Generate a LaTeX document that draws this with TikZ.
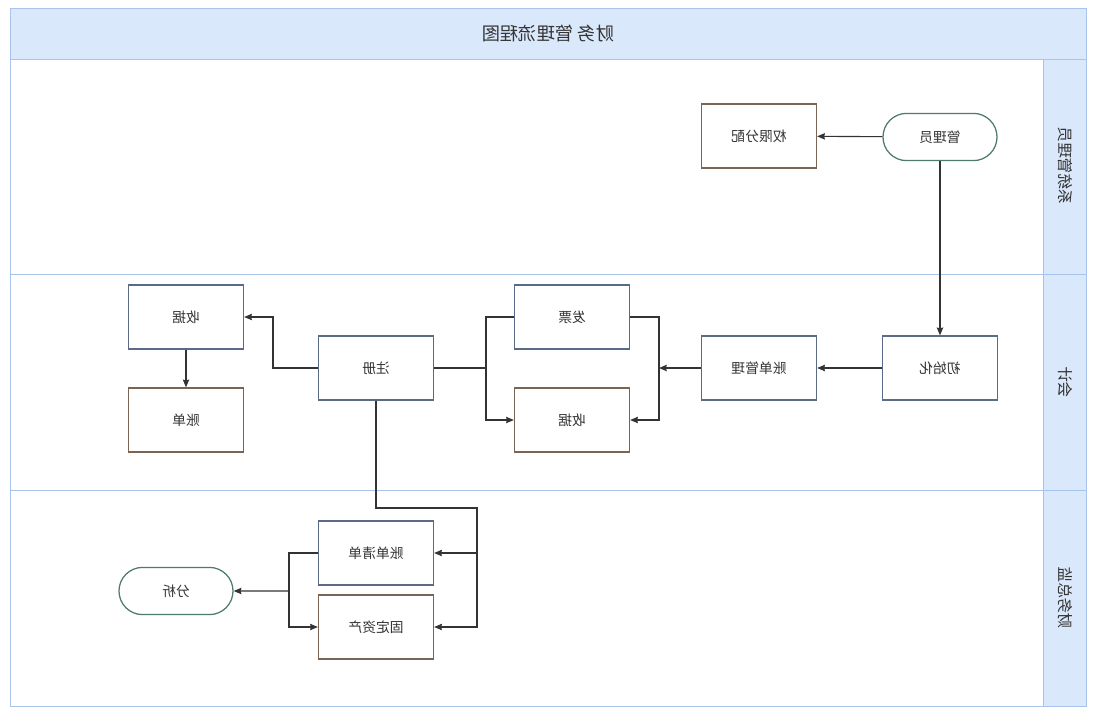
\documentclass[tikz,border=0pt]{standalone}
\usepackage{fontspec}
\setmainfont{Noto Sans CJK SC}
\usetikzlibrary{shapes.misc,arrows.meta,positioning,calc}
\definecolor{laneblue}{HTML}{DAE8FC}
\definecolor{laneline}{HTML}{A9C4EB}
\definecolor{boxblue}{HTML}{5B6B85}
\definecolor{boxbrown}{HTML}{7A6555}
\definecolor{termgreen}{HTML}{4F7A70}
\definecolor{inkgray}{HTML}{333333}
% the whole chart is shown mirrored
\newcommand{\flip}[1]{\reflectbox{#1}}
\newcommand{\vflip}[1]{\scalebox{1}[-1]{#1}}
\begin{document}
\begin{tikzpicture}[x=0.025cm, y=-0.025cm,
    stepbox/.style={rectangle, draw=boxblue, fill=white, line width=0.9pt, minimum width=2.875cm, minimum height=1.6cm, inner sep=0pt, text=inkgray, font=\fontsize{9.8}{11}\selectfont},
    docbox/.style={stepbox, draw=boxbrown},
    terminal/.style={rounded rectangle, draw=termgreen, fill=white, line width=0.9pt, minimum width=2.85cm, minimum height=1.18cm, inner sep=0pt, text=inkgray, font=\fontsize{9.8}{11}\selectfont},
    lanelabel/.style={rotate=90, text=inkgray, font=\fontsize{11}{13}\selectfont},
    link/.style={draw=inkgray, line width=0.8pt},
    arrow/.style={link, -{Stealth[length=5.5pt, width=4.5pt, inset=0.5pt]}}
]
\useasboundingbox (0,0) rectangle (1100,718);

% swimlanes
\fill[laneblue] (10,8) rectangle (1086,59);
\fill[laneblue] (1043,59) rectangle (1086,706);
\draw[laneline] (10,8) rectangle (1086,706);
\draw[laneline] (10,59) -- (1086,59);
\draw[laneline] (10,274) -- (1086,274);
\draw[laneline] (10,490) -- (1086,490);
\draw[laneline] (1043,59) -- (1043,706);

\node[text=inkgray, font=\fontsize{13}{15}\selectfont] (title) at (548,34) {\flip{财务 管理流程图}};
\node[lanelabel] (lane1) at (1065,166) {\vflip{系统管理员}};
\node[lanelabel] (lane2) at (1065,382) {\vflip{会计}};
\node[lanelabel] (lane3) at (1065,598) {\vflip{财务总监}};

% system admin lane
\node[docbox] (perm) at (759,136) {\flip{权限分配}};
\node[terminal] (admin) at (940,137) {\flip{管理员}};

% accountant lane
\node[stepbox] (init) at (940,368) {\flip{初始化}};
\node[stepbox] (billmgr) at (759,368) {\flip{账单管理}};
\node[stepbox] (invoice) at (572,317) {\flip{发票}};
\node[docbox] (receipt2) at (572,420) {\flip{收据}};
\node[stepbox] (register) at (376,368) {\flip{注册}};
\node[stepbox] (receipt1) at (186,317) {\flip{收据}};
\node[docbox] (bill) at (186,420) {\flip{账单}};

% finance director lane
\node[stepbox] (billlist) at (376,553) {\flip{账单清单}};
\node[docbox] (fixed) at (376,627) {\flip{固定资产}};
\node[terminal] (analysis) at (176,591) {\flip{分析}};

\coordinate (jr) at (659,368);
\coordinate (jl) at (486,368);
\coordinate (rl) at (273,368);
\coordinate (rd1) at (376,508);
\coordinate (rd2) at (477,508);
\coordinate (ll) at (289,591);

\draw[arrow] (admin) -- (perm);
\draw[arrow, line width=1.2pt] (admin) -- (init);
\draw[arrow] (init) -- (billmgr);
\draw[arrow] (billmgr) -- (jr);
\draw[arrow] (invoice.east) -| (jr) |- (receipt2.east);
\draw[link] (register) -- (jl);
\draw[arrow] (invoice.west) -| (jl) |- (receipt2.west);
\draw[arrow] (register) -- (rl) |- (receipt1);
\draw[arrow] (receipt1) -- (bill);
\draw[arrow] (register) -- (rd1) -- (rd2) |- (billlist);
\draw[arrow] (rd2) |- (fixed);
\draw[link] (billlist) -| (ll);
\draw[arrow] (ll) -- (analysis);
\draw[arrow] (ll) |- (fixed);

\end{tikzpicture}
\end{document}
